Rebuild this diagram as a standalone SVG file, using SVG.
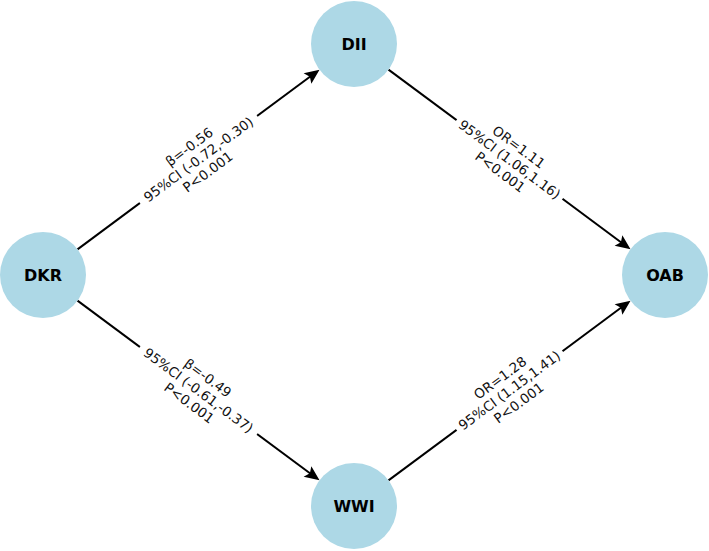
<svg xmlns="http://www.w3.org/2000/svg" width="709" height="551" viewBox="0 0 709 551">
<style>
.node{fill:#ADD8E6}
.nl{font-family:"DejaVu Sans",sans-serif;font-weight:bold;font-size:16px;fill:#000;text-anchor:middle;dominant-baseline:central}
.edge{stroke:#000;stroke-width:2;fill:none;marker-end:url(#ah)}
.el{font-family:"DejaVu Sans",sans-serif;font-size:13.5px;fill:#111;text-anchor:middle}
.bg{fill:#fff}
</style>
<defs>
<marker id="ah" markerUnits="userSpaceOnUse" markerWidth="30" markerHeight="30" refX="0" refY="0" orient="auto" overflow="visible">
<path d="M9,0 L-6,-6.5 L-3,0 L-6,6.5 Z" fill="#000"/>
</marker>
</defs>
<rect width="709" height="551" fill="#fff"/>
<g id="edges">
<line class="edge" x1="77.5" y1="249.4" x2="312.3" y2="75"/>
<line class="edge" x1="388.5" y1="69.6" x2="623.3" y2="244"/>
<line class="edge" x1="77.5" y1="300.6" x2="312.3" y2="475"/>
<line class="edge" x1="388.5" y1="480.4" x2="623.3" y2="306"/>
<g id="label-dkr-dii" transform="translate(198.5,159.5) rotate(-36.6)">
<rect class="bg" x="-73" y="-27" width="146" height="54" rx="5"/>
<text class="el" x="0" y="-10.9">β=-0.56</text>
<text class="el" x="0" y="4.7">95%CI (-0.72,-0.30)</text>
<text class="el" x="0" y="20.3">P&lt;0.001</text>
</g>
<g id="label-dii-oab" transform="translate(509.5,159.5) rotate(36.6)">
<rect class="bg" x="-66" y="-27" width="132" height="54" rx="5"/>
<text class="el" x="0" y="-10.9">OR=1.11</text>
<text class="el" x="0" y="4.7">95%CI (1.06,1.16)</text>
<text class="el" x="0" y="20.3">P&lt;0.001</text>
</g>
<g id="label-dkr-wwi" transform="translate(198.5,390.5) rotate(36.6)">
<rect class="bg" x="-73" y="-27" width="146" height="54" rx="5"/>
<text class="el" x="0" y="-10.9">β=-0.49</text>
<text class="el" x="0" y="4.7">95%CI (-0.61,-0.37)</text>
<text class="el" x="0" y="20.3">P&lt;0.001</text>
</g>
<g id="label-wwi-oab" transform="translate(509.5,390.5) rotate(-36.6)">
<rect class="bg" x="-66" y="-27" width="132" height="54" rx="5"/>
<text class="el" x="0" y="-10.9">OR=1.28</text>
<text class="el" x="0" y="4.7">95%CI (1.15,1.41)</text>
<text class="el" x="0" y="20.3">P&lt;0.001</text>
</g>
</g>
<g id="node-dkr"><circle class="node" cx="43" cy="275" r="43"/><text class="nl" x="43" y="275">DKR</text></g>
<g id="node-dii"><circle class="node" cx="354" cy="44" r="43"/><text class="nl" x="354" y="44">DII</text></g>
<g id="node-wwi"><circle class="node" cx="354" cy="506" r="43"/><text class="nl" x="354" y="506">WWI</text></g>
<g id="node-oab"><circle class="node" cx="665" cy="275" r="43"/><text class="nl" x="665" y="275">OAB</text></g>
</svg>
